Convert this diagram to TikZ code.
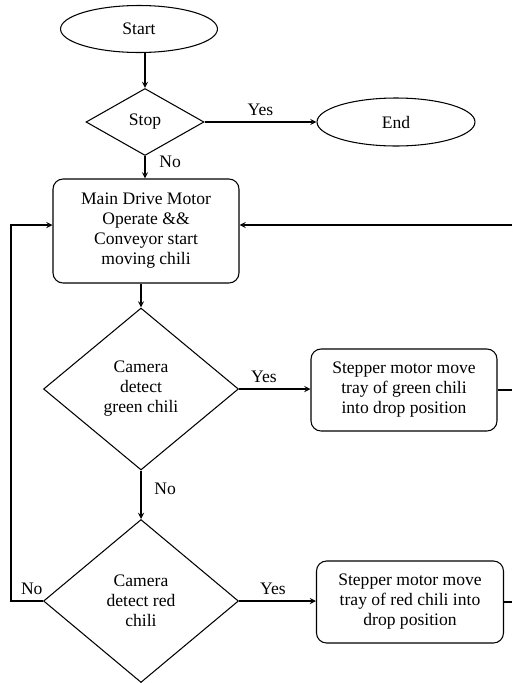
\documentclass[tikz,border=0pt]{standalone}
\usepackage{fontspec}
\setmainfont{Liberation Serif}
\usetikzlibrary{shapes.geometric}
\begin{document}
\begin{tikzpicture}[x=0.02cm,y=-0.02cm,line width=0.6pt,>=stealth,
		font=\fontsize{10}{11.4}\selectfont,
		term/.style={draw,ellipse,inner sep=0pt,minimum width=3.14cm,minimum height=0.94cm},
		decide/.style={draw,diamond,inner sep=0pt,align=center},
		proc/.style={draw,rounded corners=0.2cm,inner sep=0pt,align=center}]
			\useasboundingbox (0,0) rectangle (512,683);
			\node[term] (start) at (139,29) {Start};
			\node[decide,minimum width=2.36cm,minimum height=1.34cm] (stop) at (145,122) {Stop};
			\node[term,minimum width=3.16cm,minimum height=0.96cm] (end) at (396,122) {End};
			\node[proc,minimum width=3.72cm,minimum height=2.08cm] (drive) at (146,231) {Main Drive Motor\\Operate \&\&\\Conveyor start\\moving chili};
			\node[decide,minimum width=3.9cm,minimum height=3.24cm] (green) at (141,389) {Camera\\detect\\green chili};
			\node[proc,minimum width=3.72cm,minimum height=1.64cm] (gtray) at (404,390) {Stepper motor move\\tray of green chili\\into drop position};
			\node[decide,minimum width=3.9cm,minimum height=3.26cm] (red) at (141,601) {Camera\\detect red\\chili};
			\node[proc,minimum width=3.74cm,minimum height=1.64cm] (rtray) at (410,602) {Stepper motor move\\tray of red chili into\\drop position};
			% free ends at the right edge
			\coordinate (rin) at (512,225);
			\coordinate (gout) at (512,389);
			\coordinate (rout) at (512,602);
			\coordinate (lft) at (11,601);
			\draw[->] (start.south -| stop.north) -- (stop.north);
			\draw[->] (stop.east) -- node[above] {Yes} (end.west);
			\draw[->] (stop.south) -- node[right,pos=0.25,xshift=0.16cm] {No} (stop.south |- drive.north);
			\draw[->] (drive.south -| green.north) -- (green.north);
			\draw[->] (green.east) -- node[above,pos=0.35] {Yes} (green.east -| gtray.west);
			\draw[->] (green.south) -- node[right,pos=0.38,xshift=0.14cm] {No} (red.north);
			\draw[->] (red.east) -- node[above,pos=0.44] {Yes} (red.east -| rtray.west);
			\draw[->] (red.west) -- node[above,pos=0.35] {No} (lft) |- ([yshift=0.12cm]drive.west);
			\draw[->] (rin) -- (rin -| drive.east);
			\draw (gtray.east) -- (gtray.east -| gout);
			\draw (rtray.east) -- (rtray.east -| rout);
		\end{tikzpicture}
\end{document}
